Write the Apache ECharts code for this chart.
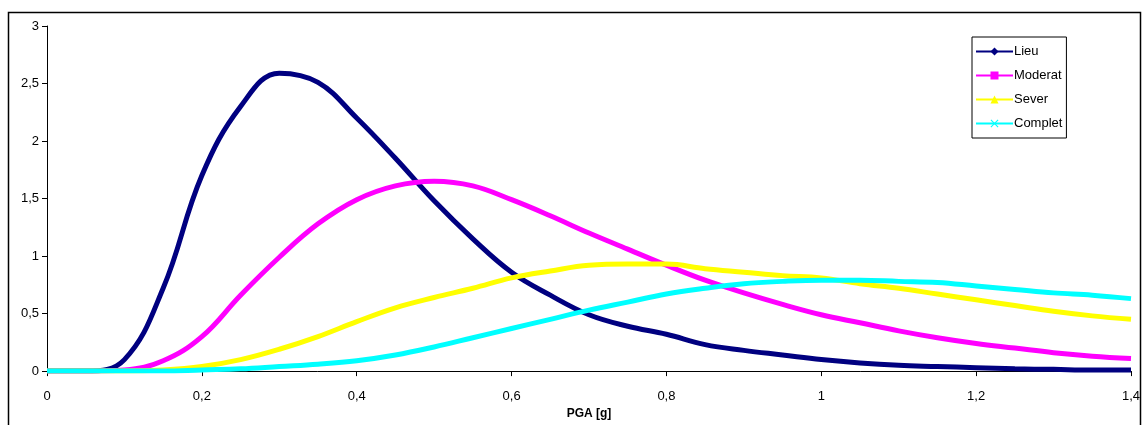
<!DOCTYPE html>
<html><head><meta charset="utf-8">
<script src="https://cdn.jsdelivr.net/npm/echarts@6/dist/echarts.min.js"></script>
<style>html,body{margin:0;padding:0;background:#fff}#c{width:1144px;height:425px}</style>
</head><body><div id="c"></div>
<script>
const pga = [0,0.05,0.1,0.15,0.2,0.25,0.3,0.35,0.4,0.45,0.5,0.55,0.6,0.65,0.7,0.75,0.8,0.85,0.9,0.95,1.0,1.05,1.1,1.15,1.2,1.25,1.3,1.35,1.4];
const lieu    = [0,0,0.1,0.72,1.70,2.30,2.59,2.51,2.20,1.85,1.48,1.15,0.86,0.66,0.49,0.39,0.32,0.23,0.18,0.14,0.10,0.07,0.05,0.04,0.03,0.02,0.015,0.01,0.01];
const moderat = [0,0,0.01,0.09,0.30,0.66,0.99,1.28,1.49,1.61,1.65,1.61,1.49,1.35,1.20,1.06,0.92,0.79,0.68,0.58,0.49,0.42,0.35,0.29,0.24,0.20,0.16,0.13,0.11];
const sever   = [0,0,0,0.01,0.04,0.10,0.19,0.30,0.43,0.55,0.64,0.72,0.81,0.87,0.92,0.93,0.93,0.89,0.86,0.83,0.81,0.76,0.72,0.67,0.62,0.57,0.52,0.48,0.45];
const complet = [0,0,0,0,0.01,0.02,0.04,0.06,0.09,0.14,0.21,0.29,0.37,0.45,0.53,0.60,0.67,0.72,0.76,0.78,0.79,0.79,0.78,0.77,0.74,0.71,0.68,0.66,0.63];
const names = ['Lieu','Moderat','Sever','Complet'];
const values = [lieu, moderat, sever, complet];
const colors = ['#000080','#FF00FF','#FFFF00','#00FFFF'];
const symbols = ['diamond','rect','triangle','path://M0,1L1,0L5,4L9,0L10,1L6,5L10,9L9,10L5,6L1,10L0,9L4,5Z'];

const fmt = v => String(+v.toFixed(1)).replace('.', ',');
const chart = echarts.init(document.getElementById('c'));
chart.setOption({
  animation: false,
  textStyle: {fontFamily: 'Liberation Sans, Arial, sans-serif'},
  graphic: [{type:'rect', shape:{x:8.5,y:12.5,width:1132,height:430}, style:{fill:'none', stroke:'#000', lineWidth:1.5}, silent:true}],
  grid: {left: 47, right: 13, top: 26, bottom: 48},
  legend: {
    orient: 'vertical', left: 972, top: 37,
    data: names,
    itemWidth: 37, itemHeight: 10, itemGap: 11,
    borderColor: '#000', borderWidth: 1, padding: [8, 4, 8, 3],
    textStyle: {fontSize: 13, color: '#000', padding: [0,0,0,-4]}
  },
  xAxis: {
    type: 'value', min: 0, max: 1.4, interval: 0.2,
    name: 'PGA [g]', nameLocation: 'middle', nameGap: 35,
    nameTextStyle: {fontWeight: 'bold', fontSize: 12, color: '#000'},
    axisLine: {lineStyle: {color: '#000', width: 1}},
    axisTick: {show: true, length: 5, lineStyle: {color: '#000'}},
    axisLabel: {formatter: fmt, color: '#000', fontSize: 13, margin: 19},
    splitLine: {show: false}
  },
  yAxis: {
    type: 'value', min: 0, max: 3, interval: 0.5,
    axisLine: {show: true, lineStyle: {color: '#000', width: 1}},
    axisTick: {show: true, length: 5, lineStyle: {color: '#000'}},
    axisLabel: {formatter: fmt, color: '#000', fontSize: 13, margin: 8},
    splitLine: {show: false}
  },
  series: names.map((n, i) => ({
    name: n, type: 'line', smooth: 0.4,
    data: pga.map((x, j) => [x, values[i][j]]),
    symbol: symbols[i], symbolSize: i === 3 ? 7 : 8, showSymbol: false,
    itemStyle: {color: colors[i]},
    lineStyle: {color: colors[i], width: 5},
    emphasis: {disabled: true}
  }))
});
</script></body></html>
